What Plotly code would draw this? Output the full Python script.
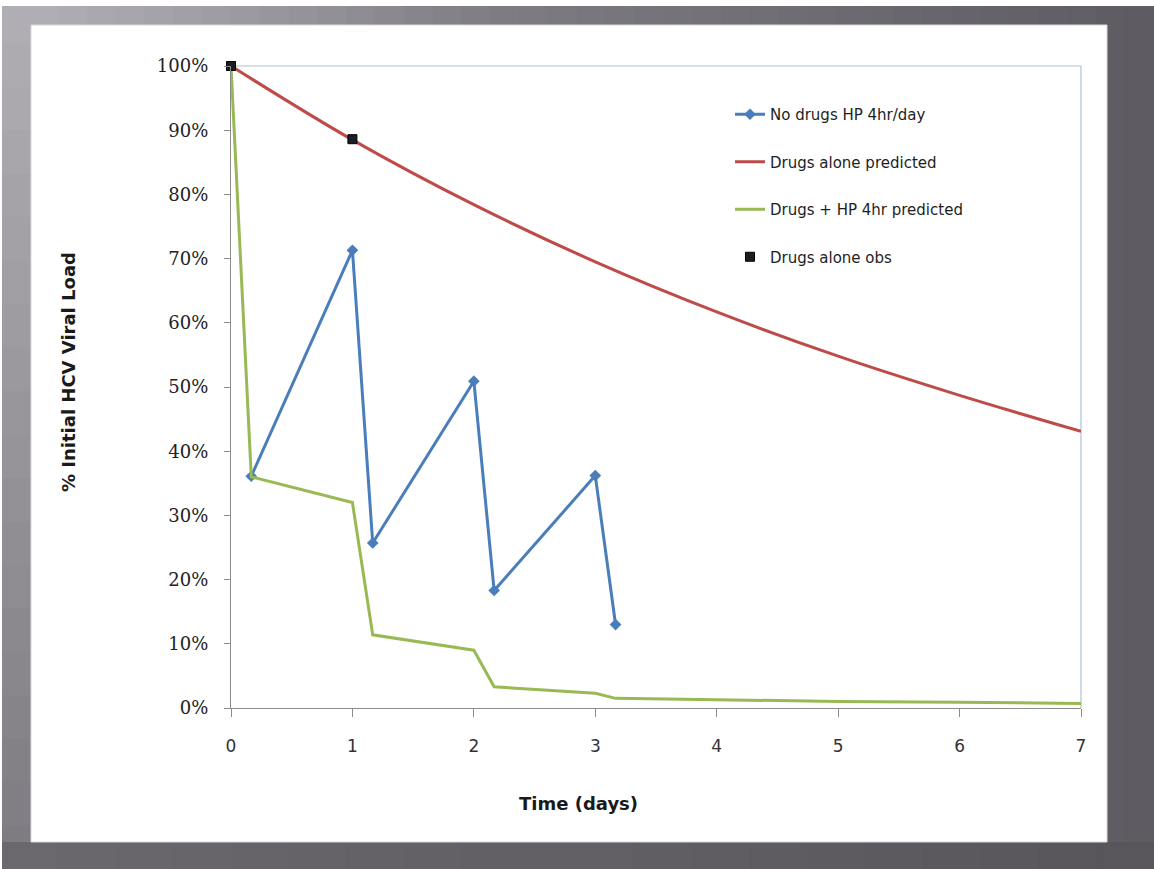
import plotly.graph_objects as go

# ---------------- data ----------------
blue_name = "No drugs HP 4hr/day"
blue_x = [0.167, 1.0, 1.167, 2.0, 2.167, 3.0, 3.167]
blue_y = [36.1, 71.3, 25.7, 50.9, 18.3, 36.2, 13.0]

red_name = "Drugs alone predicted"
red_x = [0, 1, 2, 3, 4, 5, 6, 7]
red_y = [100, 88.5, 78.4, 69.5, 61.7, 54.8, 48.7, 43.1]

green_name = "Drugs + HP 4hr predicted"
green_x = [0, 0.167, 1.0, 1.167, 2.0, 2.167, 3.0, 3.167, 4, 5, 6, 7]
green_y = [100, 36.0, 32.0, 11.4, 9.0, 3.3, 2.3, 1.5, 1.3, 1.0, 0.9, 0.7]

obs_name = "Drugs alone obs"
obs_x = [0, 1]
obs_y = [100, 88.6]

x_ticks = [0, 1, 2, 3, 4, 5, 6, 7]
y_ticks = [0, 10, 20, 30, 40, 50, 60, 70, 80, 90, 100]
y_tick_labels = [f"{v}%" for v in y_ticks]

# ---------------- layout geometry ----------------
W, H = 1154, 869
L, R, T, B = 231, 1081, 66, 708


def px_x(p):
    return (p - L) / (R - L)


def px_y(p):
    return (B - p) / (B - T)


def hexmix(c1, c2, t):
    a = [int(c1[i:i + 2], 16) for i in (1, 3, 5)]
    b = [int(c2[i:i + 2], 16) for i in (1, 3, 5)]
    return "#" + "".join(f"{round(a[k] + (b[k] - a[k]) * t):02x}" for k in range(3))


fig = go.Figure()

fig.add_trace(go.Scatter(
    x=blue_x, y=blue_y, name=blue_name, mode="lines+markers",
    line=dict(color="#4a7ebb", width=3),
    marker=dict(symbol="diamond", size=9, color="#4a7ebb"),
    legendgroup="a"))
fig.add_trace(go.Scatter(
    x=red_x, y=red_y, name=red_name, mode="lines",
    line=dict(color="#be4b48", width=3, shape="spline"),
    legendgroup="b"))
fig.add_trace(go.Scatter(
    x=green_x, y=green_y, name=green_name, mode="lines",
    line=dict(color="#98b954", width=3),
    legendgroup="c"))
fig.add_trace(go.Scatter(
    x=obs_x, y=obs_y, name=obs_name, mode="markers",
    marker=dict(symbol="square", size=9, color="#1c1c24",
                line=dict(color="#000000", width=1)),
    cliponaxis=False,
    legendgroup="d"))

shapes = []
# background frame (gray gradient)
stops = [(0, "#b4b2b8"), (200, "#a19fa5"), (500, "#7e7b81"), (1154, "#5d5a61")]
n = 40
for i in range(n):
    x0 = W * i / n
    x1 = W * (i + 1) / n + 1
    xm = (x0 + x1) / 2
    for j in range(len(stops) - 1):
        if stops[j][0] <= xm <= stops[j + 1][0]:
            t = (xm - stops[j][0]) / (stops[j + 1][0] - stops[j][0])
            col = hexmix(stops[j][1], stops[j + 1][1], t)
    shapes.append(dict(type="rect", xref="paper", yref="paper",
                       x0=px_x(x0), x1=px_x(x1), y0=px_y(H), y1=px_y(0),
                       fillcolor=col, line_width=0, layer="below"))
# left band vertical gradient
for i in range(20):
    y0 = H * i / 20
    y1 = H * (i + 1) / 20 + 1
    col = hexmix("#b0aeb4", "#7e7c82", i / 19)
    shapes.append(dict(type="rect", xref="paper", yref="paper",
                       x0=px_x(2), x1=px_x(31), y0=px_y(y1), y1=px_y(y0),
                       fillcolor=col, line_width=0, layer="below"))
# bottom band
for i in range(20):
    x0 = W * i / 20
    x1 = W * (i + 1) / 20 + 1
    col = hexmix("#6a676d", "#58555b", i / 19)
    shapes.append(dict(type="rect", xref="paper", yref="paper",
                       x0=px_x(x0), x1=px_x(x1), y0=px_y(H), y1=px_y(842),
                       fillcolor=col, line_width=0, layer="below"))
# white top strip / left strip
shapes.append(dict(type="rect", xref="paper", yref="paper",
                   x0=px_x(0), x1=px_x(W), y0=px_y(6), y1=px_y(0),
                   fillcolor="#ffffff", line_width=0, layer="below"))
shapes.append(dict(type="rect", xref="paper", yref="paper",
                   x0=px_x(0), x1=px_x(2), y0=px_y(H), y1=px_y(0),
                   fillcolor="#ffffff", line_width=0, layer="below"))
# white slide panel
shapes.append(dict(type="rect", xref="paper", yref="paper",
                   x0=px_x(31), x1=px_x(1107), y0=px_y(842), y1=px_y(25),
                   fillcolor="#ffffff", line=dict(color="#d8d8d8", width=1),
                   layer="below"))
# top and right plot borders (light blue)
shapes.append(dict(type="line", xref="paper", yref="paper",
                   x0=0, x1=1, y0=1, y1=1,
                   line=dict(color="#a8c4d2", width=1.2), layer="below"))
shapes.append(dict(type="line", xref="paper", yref="paper",
                   x0=1, x1=1, y0=0, y1=1,
                   line=dict(color="#a8c4d2", width=1.2), layer="below"))

annotations = [
    dict(text="<b>Time (days)</b>", xref="paper", yref="paper",
         x=px_x(578), y=px_y(803), showarrow=False,
         font=dict(family="DejaVu Sans", size=18, color="#1a1a1a"),
         xanchor="center", yanchor="middle"),
    dict(text="<b>% Initial HCV Viral Load</b>", xref="paper", yref="paper",
         x=px_x(68), y=px_y(372), showarrow=False, textangle=-90,
         font=dict(family="DejaVu Sans", size=18, color="#1a1a1a"),
         xanchor="center", yanchor="middle"),
]

fig.update_layout(
    width=W, height=H,
    margin=dict(l=L, r=W - R, t=T, b=H - B),
    paper_bgcolor="#6d6a70",
    plot_bgcolor="rgba(0,0,0,0)",
    showlegend=True,
    legend=dict(x=px_x(730), y=px_y(98), xanchor="left", yanchor="top",
                bgcolor="rgba(0,0,0,0)", tracegroupgap=25,
                font=dict(family="DejaVu Sans", size=15, color="#1e1e1e"),
                itemwidth=30),
    shapes=shapes,
    annotations=annotations,
    xaxis=dict(range=[0, 7], tickvals=x_ticks, showgrid=False, zeroline=False,
               showline=True, linecolor="#8c8c8c", linewidth=1.2,
               ticks="outside", ticklen=8, tickcolor="#8c8c8c",
               tickfont=dict(family="DejaVu Sans", size=17, color="#333333"),
               ticklabelstandoff=14),
    yaxis=dict(range=[0, 100], tickvals=y_ticks, ticktext=y_tick_labels,
               showgrid=False, zeroline=False,
               showline=True, linecolor="#8c8c8c", linewidth=1.2,
               ticks="outside", ticklen=6, tickcolor="#8c8c8c",
               tickfont=dict(family="DejaVu Serif", size=18, color="#222222"),
               ticklabelstandoff=12),
)

fig.write_html("out.html",
               config={"displayModeBar": False},
               post_script="document.body.style.margin='0';"
                           "document.body.style.overflow='hidden';")
